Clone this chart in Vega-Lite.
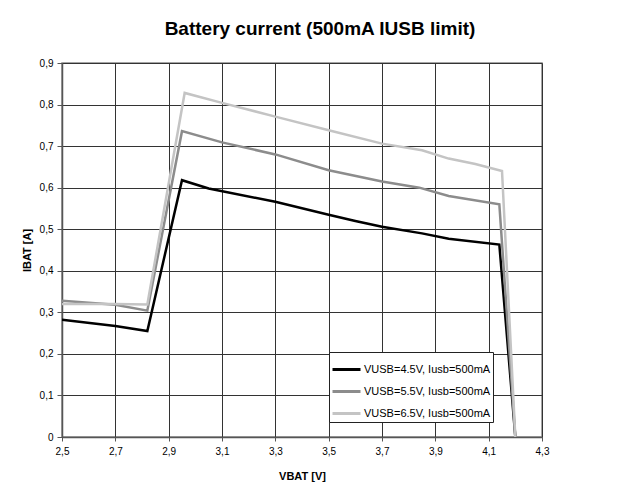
{
  "$schema": "https://vega.github.io/schema/vega-lite/v6.json",
  "autosize": {"type": "none"},
  "padding": {"left": 62, "top": 63, "right": 88, "bottom": 52},
  "width": 480,
  "height": 374,
  "background": "white",
  "title": {
    "text": "Battery current (500mA IUSB limit)",
    "font": "Liberation Sans",
    "fontSize": 19,
    "fontWeight": "bold",
    "color": "black",
    "anchor": "middle",
    "dx": 18,
    "offset": 19
  },
  "data": {
    "values": [
      {"s": "VUSB=4.5V, Iusb=500mA", "v": 2.5, "i": 0.282},
      {"s": "VUSB=4.5V, Iusb=500mA", "v": 2.7, "i": 0.267},
      {"s": "VUSB=4.5V, Iusb=500mA", "v": 2.82, "i": 0.255},
      {"s": "VUSB=4.5V, Iusb=500mA", "v": 2.95, "i": 0.618},
      {"s": "VUSB=4.5V, Iusb=500mA", "v": 3.05, "i": 0.598},
      {"s": "VUSB=4.5V, Iusb=500mA", "v": 3.3, "i": 0.566},
      {"s": "VUSB=4.5V, Iusb=500mA", "v": 3.5, "i": 0.535},
      {"s": "VUSB=4.5V, Iusb=500mA", "v": 3.6, "i": 0.52},
      {"s": "VUSB=4.5V, Iusb=500mA", "v": 3.7, "i": 0.506},
      {"s": "VUSB=4.5V, Iusb=500mA", "v": 3.85, "i": 0.49},
      {"s": "VUSB=4.5V, Iusb=500mA", "v": 3.95, "i": 0.477},
      {"s": "VUSB=4.5V, Iusb=500mA", "v": 4.14, "i": 0.463},
      {"s": "VUSB=4.5V, Iusb=500mA", "v": 4.2, "i": 0},
      {"s": "VUSB=5.5V, Iusb=500mA", "v": 2.5, "i": 0.328},
      {"s": "VUSB=5.5V, Iusb=500mA", "v": 2.7, "i": 0.318},
      {"s": "VUSB=5.5V, Iusb=500mA", "v": 2.82, "i": 0.304},
      {"s": "VUSB=5.5V, Iusb=500mA", "v": 2.95, "i": 0.736},
      {"s": "VUSB=5.5V, Iusb=500mA", "v": 3.1, "i": 0.709},
      {"s": "VUSB=5.5V, Iusb=500mA", "v": 3.3, "i": 0.68},
      {"s": "VUSB=5.5V, Iusb=500mA", "v": 3.5, "i": 0.642},
      {"s": "VUSB=5.5V, Iusb=500mA", "v": 3.7, "i": 0.615},
      {"s": "VUSB=5.5V, Iusb=500mA", "v": 3.84, "i": 0.6},
      {"s": "VUSB=5.5V, Iusb=500mA", "v": 3.95, "i": 0.58},
      {"s": "VUSB=5.5V, Iusb=500mA", "v": 4.14, "i": 0.56},
      {"s": "VUSB=5.5V, Iusb=500mA", "v": 4.2, "i": 0},
      {"s": "VUSB=6.5V, Iusb=500mA", "v": 2.5, "i": 0.32},
      {"s": "VUSB=6.5V, Iusb=500mA", "v": 2.7, "i": 0.32},
      {"s": "VUSB=6.5V, Iusb=500mA", "v": 2.82, "i": 0.319},
      {"s": "VUSB=6.5V, Iusb=500mA", "v": 2.96, "i": 0.828},
      {"s": "VUSB=6.5V, Iusb=500mA", "v": 3.1, "i": 0.804},
      {"s": "VUSB=6.5V, Iusb=500mA", "v": 3.3, "i": 0.771},
      {"s": "VUSB=6.5V, Iusb=500mA", "v": 3.5, "i": 0.738},
      {"s": "VUSB=6.5V, Iusb=500mA", "v": 3.7, "i": 0.706},
      {"s": "VUSB=6.5V, Iusb=500mA", "v": 3.85, "i": 0.69},
      {"s": "VUSB=6.5V, Iusb=500mA", "v": 3.95, "i": 0.67},
      {"s": "VUSB=6.5V, Iusb=500mA", "v": 4.05, "i": 0.657},
      {"s": "VUSB=6.5V, Iusb=500mA", "v": 4.15, "i": 0.64},
      {"s": "VUSB=6.5V, Iusb=500mA", "v": 4.2, "i": 0}
    ]
  },
  "mark": {"type": "line", "strokeWidth": 2.5, "clip": true},
  "encoding": {
    "x": {
      "field": "v",
      "type": "quantitative",
      "scale": {"domain": [2.5, 4.3], "nice": false, "zero": false},
      "axis": {
        "title": "VBAT [V]",
        "values": [2.5, 2.7, 2.9, 3.1, 3.3, 3.5, 3.7, 3.9, 4.1, 4.3],
        "labelExpr": "replace(format(datum.value, '.1f'), '.', ',')",
        "labelFlush": false,
        "grid": true,
        "gridColor": "#333333",
        "gridOpacity": 1,
        "gridWidth": 1,
        "domainColor": "#555555",
        "domainWidth": 1.5,
        "tickColor": "#555555",
        "tickSize": 4,
        "labelFont": "Liberation Sans",
        "labelFontSize": 10,
        "labelColor": "black",
        "labelPadding": 5,
        "titleFont": "Liberation Sans",
        "titleFontSize": 11,
        "titleFontWeight": "bold",
        "titleColor": "black",
        "titlePadding": 14
      }
    },
    "y": {
      "field": "i",
      "type": "quantitative",
      "scale": {"domain": [0, 0.9], "nice": false},
      "axis": {
        "title": "IBAT [A]",
        "values": [0, 0.1, 0.2, 0.3, 0.4, 0.5, 0.6, 0.7, 0.8, 0.9],
        "labelExpr": "datum.value == 0 ? '0' : replace(format(datum.value, '.1f'), '.', ',')",
        "labelFlush": false,
        "grid": true,
        "gridColor": "#333333",
        "gridOpacity": 1,
        "gridWidth": 1,
        "domainColor": "#555555",
        "domainWidth": 1.5,
        "tickColor": "#555555",
        "tickSize": 5,
        "labelFont": "Liberation Sans",
        "labelFontSize": 10,
        "labelColor": "black",
        "labelPadding": 4,
        "titleFont": "Liberation Sans",
        "titleFontSize": 11,
        "titleFontWeight": "bold",
        "titleColor": "black",
        "titlePadding": 7
      }
    },
    "color": {
      "field": "s",
      "type": "nominal",
      "scale": {
        "domain": ["VUSB=4.5V, Iusb=500mA", "VUSB=5.5V, Iusb=500mA", "VUSB=6.5V, Iusb=500mA"],
        "range": ["#000000", "#8c8c8c", "#c4c4c4"]
      },
      "legend": {
        "title": null,
        "orient": "none",
        "legendX": 267,
        "legendY": 289,
        "fillColor": "white",
        "strokeColor": "#222222",
        "padding": 2,
        "symbolType": "stroke",
        "symbolStrokeWidth": 3,
        "symbolSize": 784,
        "labelFont": "Liberation Sans",
        "labelFontSize": 11,
        "labelColor": "black",
        "rowPadding": -5,
        "labelOffset": 2
      }
    }
  },
  "config": {
    "view": {"stroke": "#888888", "strokeWidth": 1.5}
  }
}
